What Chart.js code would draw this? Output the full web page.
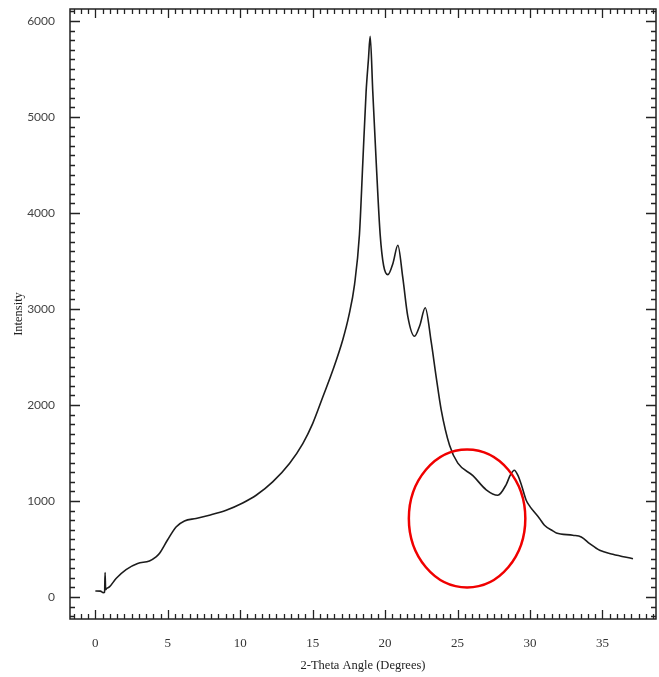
<!DOCTYPE html>
<html>
<head>
<meta charset="utf-8">
<script src="https://cdn.jsdelivr.net/npm/chart.js@4.4.1/dist/chart.umd.min.js"></script>
<style>
html,body{margin:0;padding:0;background:#fff;}
#wrap{width:659px;height:677px;position:relative;}
</style>
</head>
<body>
<div id="wrap"><canvas id="c" width="659" height="677"></canvas></div>
<script>
// ---- data ----
const twoTheta = [0.0, 0.35, 0.55, 0.64, 0.67, 0.71, 0.78, 0.97, 1.43, 2.12, 2.92, 3.73, 4.19, 4.42, 4.97, 5.57, 6.15, 6.95, 7.87, 9.03, 10.17, 11.1, 12.24, 13.4, 14.32, 15.0, 15.7, 16.39, 17.08, 17.5, 17.89, 18.23, 18.46, 18.69, 18.85, 18.97, 19.15, 19.39, 19.66, 19.9, 20.19, 20.55, 20.88, 21.22, 21.57, 22.03, 22.4, 22.77, 23.18, 23.53, 23.87, 24.45, 25.02, 26.06, 26.98, 27.78, 28.36, 28.64, 28.92, 29.16, 29.4, 29.74, 29.97, 30.2, 30.66, 31.0, 31.58, 31.82, 32.96, 33.54, 34.12, 34.81, 35.72, 37.11];
const intensity = [62, 60, 45, 48, 255, 75, 88, 104, 192, 285, 348, 375, 417, 452, 590, 729, 792, 817, 851, 903, 979, 1059, 1198, 1390, 1598, 1806, 2083, 2361, 2680, 2930, 3254, 3775, 4519, 5264, 5600, 5840, 5264, 4519, 3775, 3450, 3358, 3480, 3664, 3329, 2920, 2716, 2830, 3013, 2659, 2288, 1952, 1580, 1394, 1264, 1116, 1059, 1171, 1268, 1320, 1268, 1171, 1007, 948, 903, 818, 747, 688, 667, 643, 625, 556, 486, 445, 398];
const xTickLabels = [0, 5, 10, 15, 20, 25, 30, 35];
const yTickLabels = [0, 1000, 2000, 3000, 4000, 5000, 6000];
const xMinorStep = 0.5;
const yMinorStep = 100;
const xTitle = '2-Theta Angle (Degrees)';
const yTitle = 'Intensity';
// red highlight ellipse (data units: centre, half-width, half-height)
const highlightCentre = [25.66, 817];
const highlightRadius = [4.02, 719];

const points = twoTheta.map((t, i) => ({x: t, y: intensity[i]}));

const frameTicks = {
  id: 'frameTicks',
  afterDatasetsDraw(chart) {
    const {ctx, chartArea: a, scales: {x, y}} = chart;
    ctx.save();
    ctx.strokeStyle = '#222';
    ctx.lineWidth = 1.5;
    ctx.strokeRect(a.left, a.top, a.right - a.left, a.bottom - a.top);
    ctx.lineWidth = 1.3;
    ctx.beginPath();
    const xMajorEvery = Math.round((xTickLabels[1] - xTickLabels[0]) / xMinorStep);
    for (let k = Math.ceil(x.min / xMinorStep); k <= Math.floor(x.max / xMinorStep); k++) {
      const px = Math.round(x.getPixelForValue(k * xMinorStep)) + 0.5;
      const len = (k % xMajorEvery === 0) ? 9 : 5;
      ctx.moveTo(px, a.bottom); ctx.lineTo(px, a.bottom - len);
      ctx.moveTo(px, a.top); ctx.lineTo(px, a.top + len);
    }
    const yMajorEvery = Math.round((yTickLabels[1] - yTickLabels[0]) / yMinorStep);
    for (let k = Math.ceil(y.min / yMinorStep); k <= Math.floor(y.max / yMinorStep); k++) {
      const py = Math.round(y.getPixelForValue(k * yMinorStep)) + 0.5;
      const len = (k % yMajorEvery === 0) ? 10 : 5;
      ctx.moveTo(a.left, py); ctx.lineTo(a.left + len, py);
      ctx.moveTo(a.right, py); ctx.lineTo(a.right - len, py);
    }
    ctx.stroke();
    // highlight ellipse
    const cx = x.getPixelForValue(highlightCentre[0]);
    const cy = y.getPixelForValue(highlightCentre[1]);
    const rx = x.getPixelForValue(highlightCentre[0] + highlightRadius[0]) - cx;
    const ry = cy - y.getPixelForValue(highlightCentre[1] + highlightRadius[1]);
    ctx.strokeStyle = '#f00000';
    ctx.lineWidth = 2.5;
    ctx.beginPath();
    ctx.ellipse(cx, cy, rx, ry, 0, 0, Math.PI * 2);
    ctx.stroke();
    ctx.restore();
  }
};

new Chart(document.getElementById('c'), {
  type: 'line',
  data: {
    datasets: [{
      data: points,
      borderColor: '#1c1c1c',
      borderWidth: 1.6,
      pointRadius: 0,
      fill: false,
      cubicInterpolationMode: 'monotone'
    }]
  },
  options: {
    responsive: false,
    devicePixelRatio: 1,
    animation: false,
    layout: {padding: {top: 9, right: 3, left: 0, bottom: 0}},
    plugins: {legend: {display: false}, tooltip: {enabled: false}},
    scales: {
      x: {
        type: 'linear',
        min: -1.75,
        max: 38.7,
        afterBuildTicks: s => { s.ticks = xTickLabels.map(v => ({value: v})); },
        afterFit: s => { s.height = 58; },
        grid: {drawOnChartArea: false, drawTicks: true, tickLength: 17, color: 'rgba(0,0,0,0)'},
        border: {display: false},
        ticks: {padding: 0, autoSkip: false, maxRotation: 0, color: '#333',
                callback: v => String(v),
                font: {family: 'Liberation Serif', size: 13}},
        title: {display: true, text: xTitle, color: '#222',
                font: {family: 'Liberation Serif', size: 12.5}, padding: {top: 0, bottom: 4}}
      },
      y: {
        type: 'linear',
        min: -230,
        max: 6125,
        afterBuildTicks: s => { s.ticks = yTickLabels.map(v => ({value: v})); },
        afterFit: s => { s.width = 70; },
        grid: {drawOnChartArea: false, drawTicks: true, tickLength: 15, color: 'rgba(0,0,0,0)'},
        border: {display: false},
        ticks: {padding: 0, autoSkip: false, color: '#444',
                callback: v => String(v),
                font: {family: 'Lato', size: 12}},
        title: {display: true, text: yTitle, color: '#222',
                font: {family: 'Liberation Serif', size: 12.5}, padding: {top: 11, bottom: 0}}
      }
    }
  },
  plugins: [frameTicks]
});
</script>
</body>
</html>
